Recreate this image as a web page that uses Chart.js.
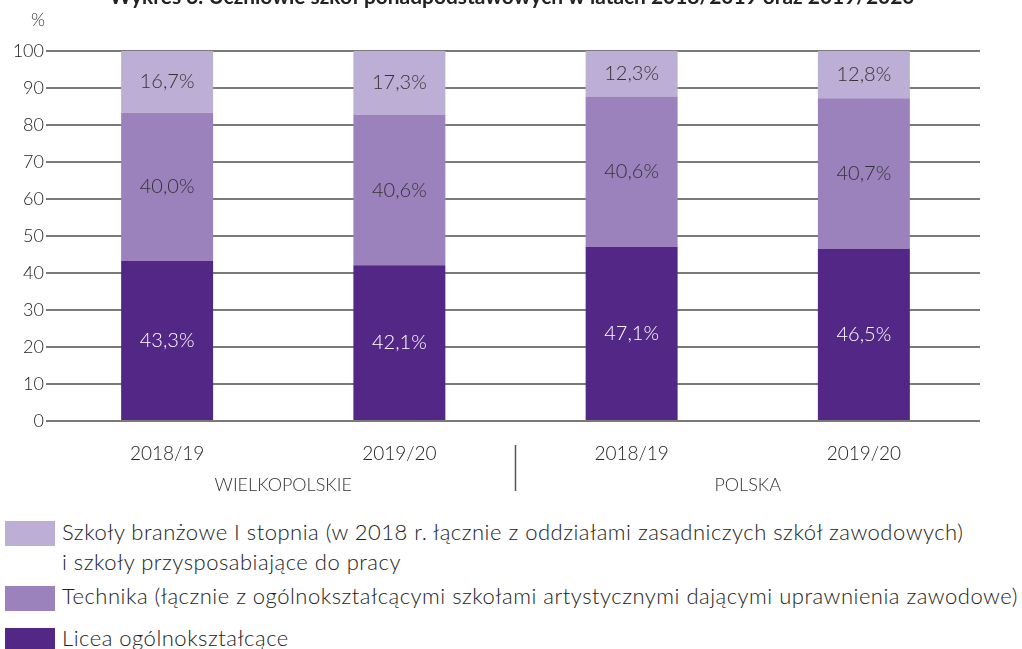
<!DOCTYPE html>
<html>
<head>
<meta charset="UTF-8">
<title>Wykres 3</title>
<script src="https://cdn.jsdelivr.net/npm/chart.js@4.4.4/dist/chart.umd.min.js"></script>
<style>
  html, body { margin: 0; padding: 0; background: #fff; overflow: hidden; }
  #wrap { position: relative; width: 1022px; height: 649px; }
  #box { position: absolute; left: 0; top: 0; width: 1022px; height: 505px; }
  .leg { position: absolute; left: 0; font-family: Lato, sans-serif; font-weight: 300; color: #222; font-size: 22px; letter-spacing: 0.5px; }
  .leg .sw { position: absolute; left: 5px; width: 50px; height: 25px; }
  .leg .tx { position: absolute; left: 62px; white-space: nowrap; line-height: 30px; }
</style>
</head>
<body>
<div id="wrap">
  <div id="box"><canvas id="c"></canvas></div>
  <div class="leg" style="top:521px"><div class="sw" style="background:#bcaed5"></div>
    <div class="tx" style="top:-4px">Szkoły branżowe I stopnia (w 2018 r. łącznie z oddziałami zasadniczych szkół zawodowych)<br>i szkoły przysposabiające do pracy</div></div>
  <div class="leg" style="top:586px"><div class="sw" style="background:#9b82bc"></div>
    <div class="tx" style="top:-5px">Technika (łącznie z ogólnokształcącymi szkołami artystycznymi dającymi uprawnienia zawodowe)</div></div>
  <div class="leg" style="top:628px"><div class="sw" style="background:#532786"></div>
    <div class="tx" style="top:-5px">Licea ogólnokształcące</div></div>
</div>
<script>
  const categories = ['2018/19', '2019/20', '2018/19', '2019/20'];
  const groups = ['WIELKOPOLSKIE', 'POLSKA'];
  const licea = [43.3, 42.1, 47.1, 46.5];
  const technika = [40.0, 40.6, 40.6, 40.7];
  const branzowe = [16.7, 17.3, 12.3, 12.8];
  const yTicks = [0, 10, 20, 30, 40, 50, 60, 70, 80, 90, 100];

  const FONT = 'Lato, sans-serif';

  // labels inside bars, title, unit, group names
  const extras = {
    id: 'extras',
    afterDatasetsDraw(chart) {
      const ctx = chart.ctx;
      ctx.save();
      ctx.textAlign = 'center';
      ctx.textBaseline = 'middle';
      ctx.font = '300 20px ' + FONT;
      chart.data.datasets.forEach((ds, i) => {
        chart.getDatasetMeta(i).data.forEach((bar, j) => {
          const v = ds.data[j];
          const mid = (bar.y + bar.base) / 2;
          ctx.fillStyle = i === 0 ? '#ffffff' : '#333333';
          ctx.fillText(v.toFixed(1).replace('.', ',') + '%', bar.x, mid);
        });
      });
      ctx.restore();
    },
    afterDraw(chart) {
      const ctx = chart.ctx;
      const x = chart.scales.x;
      const area = chart.chartArea;
      ctx.save();
      // title (cut at top)
      ctx.fillStyle = '#222';
      ctx.textAlign = 'center';
      ctx.textBaseline = 'middle';
      ctx.font = 'bold 20px ' + FONT;
      const title = 'Wykres 3. Uczniowie szkół ponadpodstawowych w latach 2018/2019 oraz 2019/2020';
      const w = ctx.measureText(title).width;
      ctx.translate(512, -2);
      ctx.scale(805 / w, 1);
      ctx.fillText(title, 0, 0);
      ctx.setTransform(1, 0, 0, 1, 0, 0);
      // unit
      ctx.font = '300 18px ' + FONT;
      ctx.fillStyle = '#333';
      ctx.fillText('%', 38, 20);
      // group labels
      const g1 = (x.getPixelForValue(0) + x.getPixelForValue(1)) / 2;
      const g2 = (x.getPixelForValue(2) + x.getPixelForValue(3)) / 2;
      ctx.fillText(groups[0], g1, 485);
      ctx.fillText(groups[1], g2, 485);
      // separator
      const sep = (x.getPixelForValue(1) + x.getPixelForValue(2)) / 2;
      ctx.strokeStyle = '#555';
      ctx.lineWidth = 1.5;
      ctx.beginPath();
      ctx.moveTo(sep, area.bottom + 24);
      ctx.lineTo(sep, area.bottom + 70);
      ctx.stroke();
      ctx.restore();
    }
  };

  new Chart(document.getElementById('c'), {
    type: 'bar',
    data: {
      labels: categories,
      datasets: [
        { label: 'Licea ogólnokształcące', data: licea, backgroundColor: '#532786' },
        { label: 'Technika', data: technika, backgroundColor: '#9b82bc' },
        { label: 'Szkoły branżowe', data: branzowe, backgroundColor: '#bcaed5' }
      ]
    },
    options: {
      responsive: true,
      maintainAspectRatio: false,
      animation: false,
      events: [],
      layout: { padding: { top: 51, right: 42, left: 0, bottom: 0 } },
      datasets: { bar: { categoryPercentage: 1, barPercentage: 0.396 } },
      plugins: { legend: { display: false }, tooltip: { enabled: false } },
      scales: {
        x: {
          stacked: true,
          grid: { display: false },
          border: { display: false },
          ticks: { color: '#222', padding: 13, font: { family: FONT, size: 19, weight: 300 } },
          afterFit: s => { s.height = 84; }
        },
        y: {
          stacked: true,
          min: 0,
          max: 100,
          afterBuildTicks: s => { s.ticks = yTicks.map(v => ({ value: v })); },
          grid: { color: '#7a7a7a', lineWidth: 2, tickLength: 5 },
          border: { display: false },
          ticks: { color: '#222', padding: 2, font: { family: FONT, size: 18, weight: 300 } },
          afterFit: s => { s.width = 51; }
        }
      }
    },
    plugins: [extras]
  });
</script>
</body>
</html>
